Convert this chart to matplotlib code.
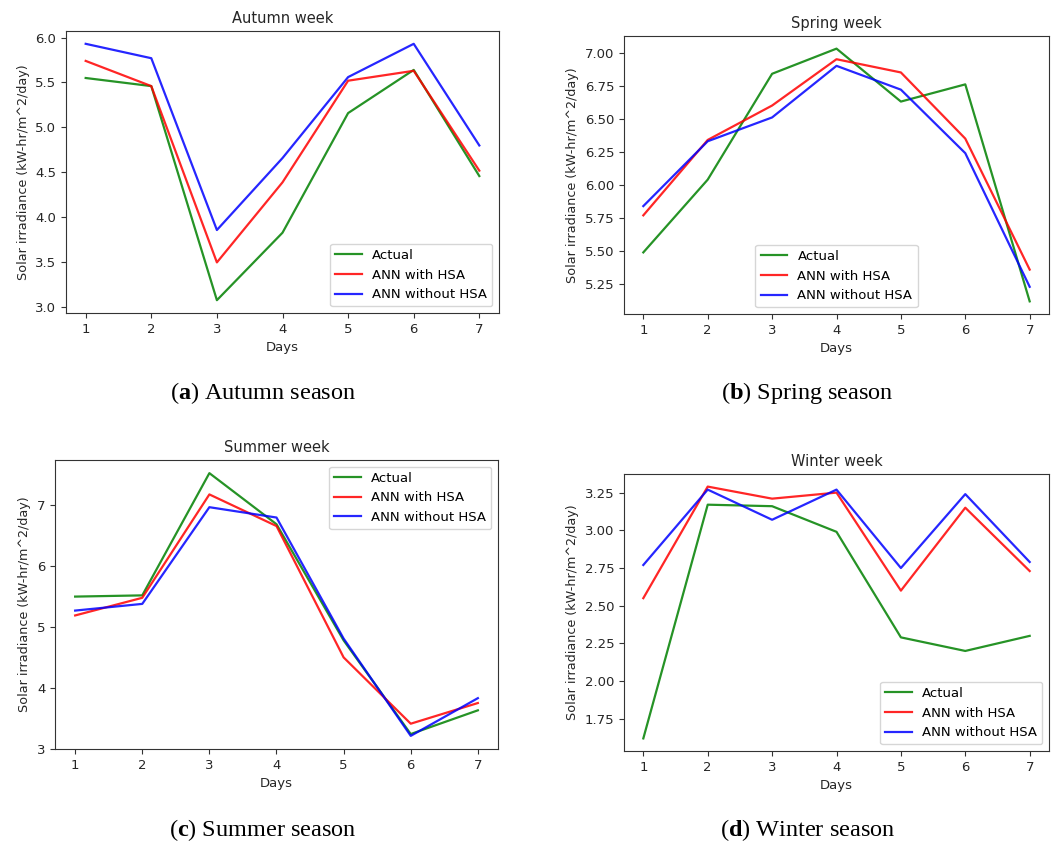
import matplotlib
matplotlib.use("Agg")
import matplotlib.pyplot as plt

days = [1, 2, 3, 4, 5, 6, 7]
series_labels = ["Actual", "ANN with HSA", "ANN without HSA"]
series_colors = ["green", "red", "blue"]

autumn_actual = [5.55, 5.46, 3.08, 3.83, 5.16, 5.64, 4.46]
autumn_hsa = [5.74, 5.46, 3.50, 4.39, 5.52, 5.63, 4.52]
autumn_nohsa = [5.93, 5.77, 3.86, 4.66, 5.56, 5.93, 4.80]

spring_actual = [5.49, 6.04, 6.84, 7.03, 6.63, 6.76, 5.12]
spring_hsa = [5.77, 6.34, 6.60, 6.95, 6.85, 6.35, 5.36]
spring_nohsa = [5.84, 6.33, 6.51, 6.90, 6.72, 6.24, 5.23]

summer_actual = [5.50, 5.52, 7.53, 6.69, 4.78, 3.24, 3.63]
summer_hsa = [5.19, 5.48, 7.18, 6.66, 4.50, 3.41, 3.75]
summer_nohsa = [5.27, 5.38, 6.97, 6.80, 4.81, 3.21, 3.83]

winter_actual = [1.62, 3.17, 3.16, 2.99, 2.29, 2.20, 2.30]
winter_hsa = [2.55, 3.29, 3.21, 3.25, 2.60, 3.15, 2.73]
winter_nohsa = [2.77, 3.27, 3.07, 3.27, 2.75, 3.24, 2.79]

titles = ["Autumn week", "Spring week", "Summer week", "Winter week"]
captions_letter = ["a", "b", "c", "d"]
captions_text = ["Autumn season", "Spring season", "Summer season", "Winter season"]
legend_locs = ["lower right", "lower center", "upper right", "lower right"]
xlabel = "Days"
ylabel = "Solar irradiance (kW-hr/m^2/day)"

data = [
    (autumn_actual, autumn_hsa, autumn_nohsa),
    (spring_actual, spring_hsa, spring_nohsa),
    (summer_actual, summer_hsa, summer_nohsa),
    (winter_actual, winter_hsa, winter_nohsa),
]

W, H = 1056, 844
# pixel boxes: x0, y0(top), x1, y1(bottom)
boxes = [(66, 31, 499, 313), (624, 36, 1049, 314), (55, 460, 498, 749), (624, 474, 1049, 751)]
caption_pos = [(263, 393), (807, 393), (263, 830), (808, 830)]

plt.rcParams['mathtext.fontset'] = 'custom'
plt.rcParams['mathtext.rm'] = 'Liberation Serif'
plt.rcParams['mathtext.bf'] = 'Liberation Serif:bold'

fig = plt.figure(figsize=(W / 100, H / 100), dpi=100)
for i, (box, series) in enumerate(zip(boxes, data)):
    x0, y0, x1, y1 = box
    ax = fig.add_axes([x0 / W, 1 - y1 / H, (x1 - x0) / W, (y1 - y0) / H])
    for vals, lab, col in zip(series, series_labels, series_colors):
        ax.plot(days, vals, color=col, label=lab, lw=1.6, alpha=0.85)
    ax.set_title(titles[i], fontsize=10.5, color="#262626")
    ax.set_xlabel(xlabel, fontsize=9.5, color="#262626")
    ax.set_ylabel(ylabel, fontsize=9.2, color="#262626")
    ax.set_xticks(days)
    ax.tick_params(labelsize=9.5, labelcolor="#262626", color="#333333")
    for s in ax.spines.values():
        s.set_color("#333333")
    ax.legend(loc=legend_locs[i], fontsize=9.5)
    cx, cy = caption_pos[i]
    fig.text(cx / W, 1 - cy / H,
             r"($\mathbf{" + captions_letter[i] + r"}$) " + captions_text[i],
             ha="center", va="center", fontsize=17.5, family="Liberation Serif")

fig.savefig("out.png", dpi=100)
